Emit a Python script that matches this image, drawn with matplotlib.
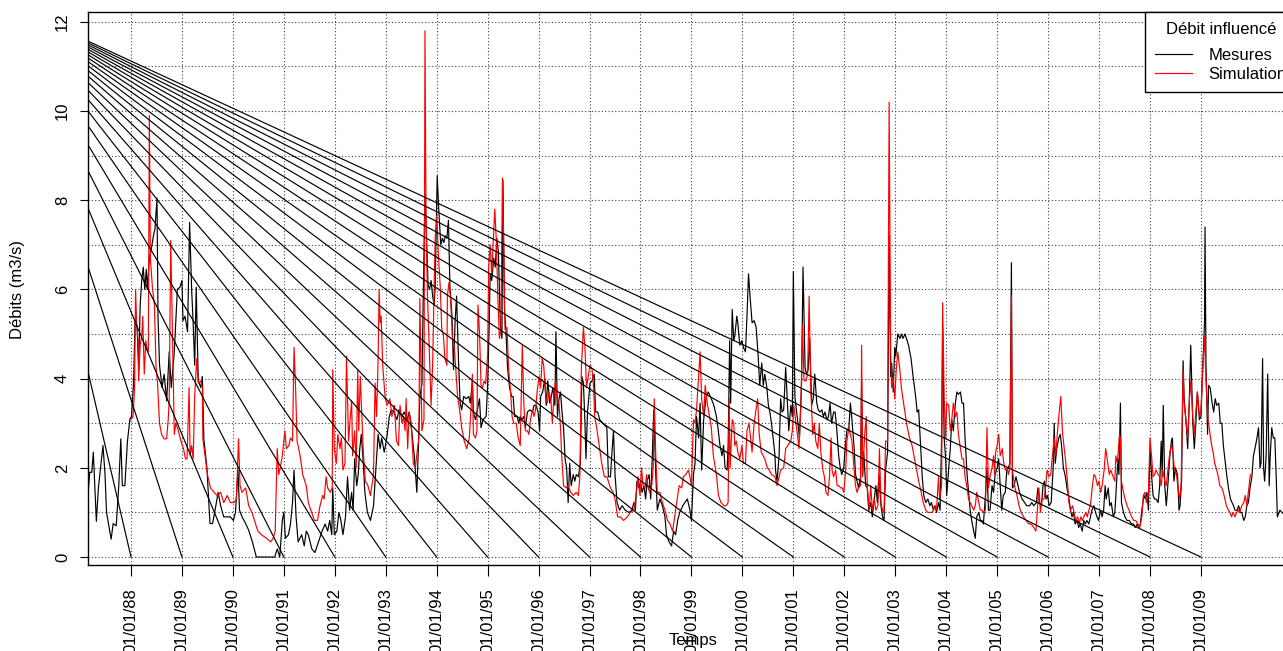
import matplotlib
matplotlib.use("Agg")
import matplotlib.pyplot as plt
import numpy as np

plt.rcParams['font.family'] = ['Liberation Sans', 'DejaVu Sans']
plt.rcParams['font.size'] = 12

# x axis: decimal years, one tick (and one fan line) per 1st of January
years = list(range(1988, 2010))
year_labels = ['01/01/%02d' % (y % 100) for y in years]
y_ticks = [0, 2, 4, 6, 8, 10, 12]

# the fan lines all start from this point (left of the plotted window) and end at (year, 0)
fan_apex = (1985.47, 12.46)

mesures = [
    (1987.14, 1.2), (1987.19, 1.9), (1987.23, 1.9), (1987.26, 2.35), (1987.32, 0.8), (1987.36, 1.55),
    (1987.45, 2.5), (1987.49, 1.85), (1987.52, 1.0), (1987.61, 0.4), (1987.65, 0.75), (1987.71, 0.7),
    (1987.76, 1.6), (1987.80, 2.65), (1987.83, 1.6), (1987.88, 1.6), (1987.93, 2.6), (1987.98, 3.1),
    (1988.01, 3.15), (1988.05, 3.9), (1988.08, 5.3), (1988.12, 5.15), (1988.15, 4.2), (1988.18, 5.65),
    (1988.21, 6.2), (1988.24, 6.5), (1988.27, 6.0), (1988.30, 6.45), (1988.32, 6.0), (1988.36, 6.7),
    (1988.39, 6.85), (1988.44, 7.2), (1988.47, 7.35), (1988.51, 8.05), (1988.53, 5.4), (1988.56, 4.3),
    (1988.61, 3.8), (1988.65, 4.1), (1988.70, 3.5), (1988.75, 4.6), (1988.79, 3.8), (1988.85, 4.6),
    (1988.91, 6.0), (1988.96, 6.05), (1989.00, 6.2), (1989.02, 5.3), (1989.06, 5.4), (1989.11, 5.05),
    (1989.15, 7.5), (1989.19, 6.0), (1989.22, 5.25), (1989.25, 4.3), (1989.28, 6.05), (1989.32, 3.95),
    (1989.37, 3.8), (1989.40, 4.05), (1989.43, 2.65), (1989.49, 2.0), (1989.55, 0.75), (1989.60, 0.75),
    (1989.65, 1.05), (1989.71, 1.45), (1989.76, 1.15), (1989.82, 0.9), (1989.89, 0.9), (1989.95, 0.9),
    (1990.01, 0.82), (1990.05, 1.0), (1990.10, 1.95), (1990.13, 1.05), (1990.18, 0.9), (1990.25, 0.75),
    (1990.31, 0.6), (1990.38, 0.35),
    (1990.46, 0.0), (1990.66, 0.0), (1990.82, 0.0), (1990.87, 0.18), (1990.92, 0.0), (1990.97, 0.82),
    (1991.00, 1.0), (1991.03, 0.42), (1991.09, 0.5), (1991.13, 0.74), (1991.17, 1.22), (1991.20, 1.95),
    (1991.24, 0.9), (1991.28, 0.34), (1991.35, 0.5), (1991.40, 0.25), (1991.44, 0.58), (1991.48, 0.5),
    (1991.55, 0.18), (1991.61, 0.1), (1991.68, 0.34), (1991.75, 0.58), (1991.81, 0.74), (1991.86, 0.58),
    (1991.90, 0.82), (1991.94, 0.5), (1991.96, 1.55), (1991.99, 0.5), (1992.04, 0.58), (1992.08, 1.0),
    (1992.12, 0.82), (1992.16, 0.5), (1992.21, 0.9), (1992.25, 1.8), (1992.29, 1.05), (1992.33, 1.45),
    (1992.36, 1.05), (1992.39, 2.2), (1992.43, 1.6), (1992.46, 1.85), (1992.49, 2.43), (1992.52, 2.75),
    (1992.56, 2.1), (1992.59, 1.45), (1992.64, 1.0), (1992.70, 0.82), (1992.76, 1.15), (1992.80, 1.85),
    (1992.85, 2.75), (1992.89, 2.43), (1992.92, 2.67), (1992.97, 2.35), (1993.02, 2.67), (1993.07, 3.15),
    (1993.11, 3.3), (1993.16, 3.25), (1993.22, 3.08), (1993.26, 3.3), (1993.32, 3.15), (1993.36, 3.25),
    (1993.42, 3.08), (1993.46, 3.25), (1993.51, 2.83), (1993.56, 2.27), (1993.61, 1.45), (1993.64, 2.43),
    (1993.67, 3.6), (1993.71, 3.88), (1993.74, 6.1), (1993.77, 8.15), (1993.79, 7.5), (1993.83, 6.1),
    (1993.86, 6.0), (1993.89, 6.2), (1993.92, 5.85), (1993.95, 5.65),
    (1993.97, 6.05), (1994.01, 8.55), (1994.04, 7.8), (1994.08, 7.0), (1994.11, 7.15), (1994.14, 7.05),
    (1994.17, 7.2), (1994.20, 7.15), (1994.23, 7.55), (1994.26, 6.05), (1994.30, 5.4), (1994.33, 4.2),
    (1994.36, 5.25), (1994.39, 5.85), (1994.43, 4.35), (1994.46, 3.45), (1994.49, 3.3), (1994.53, 3.6),
    (1994.58, 3.55), (1994.63, 3.6), (1994.66, 3.45), (1994.70, 3.95), (1994.72, 3.25), (1994.76, 3.08),
    (1994.80, 3.3), (1994.84, 3.55), (1994.87, 2.9), (1994.91, 3.08), (1994.97, 3.15), (1995.00, 3.85),
    (1995.03, 5.2), (1995.05, 6.35), (1995.08, 6.2), (1995.12, 6.7), (1995.15, 6.5), (1995.18, 7.15),
    (1995.21, 6.85), (1995.25, 5.2), (1995.28, 4.9), (1995.30, 8.45), (1995.33, 5.55), (1995.36, 5.05),
    (1995.39, 4.25), (1995.43, 3.8), (1995.47, 3.6), (1995.50, 3.6), (1995.53, 3.15), (1995.58, 3.15),
    (1995.61, 3.0), (1995.64, 3.15), (1995.67, 3.08), (1995.71, 3.15), (1995.74, 2.9), (1995.78, 3.25),
    (1995.83, 3.3), (1995.88, 3.25), (1995.91, 3.4), (1995.95, 3.4), (1995.99, 3.25), (1996.02, 2.83),
    (1996.04, 3.6), (1996.08, 3.7), (1996.12, 4.0), (1996.15, 3.4), (1996.18, 3.95), (1996.22, 3.45),
    (1996.25, 3.6), (1996.28, 3.8), (1996.32, 3.4), (1996.34, 5.05), (1996.37, 3.15), (1996.40, 3.55),
    (1996.43, 3.7), (1996.46, 3.25), (1996.49, 2.9), (1996.52, 2.2), (1996.55, 2.0), (1996.58, 1.22),
    (1996.61, 2.1), (1996.64, 1.6), (1996.68, 1.85), (1996.71, 1.7), (1996.74, 1.85), (1996.78, 1.8),
    (1996.82, 2.1), (1996.85, 4.05), (1996.88, 3.9), (1996.91, 3.0), (1996.93, 2.2), (1996.96, 3.25),
    (1997.01, 3.9), (1997.05, 3.95), (1997.09, 4.1), (1997.12, 3.25), (1997.16, 3.25), (1997.20, 3.08),
    (1997.26, 3.0),
    (1997.34, 2.9), (1997.37, 1.8), (1997.41, 1.8), (1997.44, 2.35), (1997.47, 2.83), (1997.50, 1.85),
    (1997.54, 1.22), (1997.59, 1.05), (1997.64, 1.15), (1997.70, 1.05), (1997.77, 1.0), (1997.83, 1.05),
    (1997.87, 1.22), (1997.90, 1.05), (1997.93, 1.7), (1997.97, 1.55), (1998.00, 1.7), (1998.03, 1.45),
    (1998.07, 1.6), (1998.10, 1.3), (1998.13, 1.7), (1998.17, 1.85), (1998.20, 1.3), (1998.23, 2.2),
    (1998.26, 3.3), (1998.30, 1.85), (1998.33, 1.05), (1998.38, 1.3), (1998.43, 1.15), (1998.48, 0.9),
    (1998.51, 0.5), (1998.56, 0.34), (1998.61, 0.25), (1998.65, 0.58), (1998.69, 0.5), (1998.73, 0.82),
    (1998.77, 1.0), (1998.83, 1.15), (1998.87, 1.22), (1998.92, 1.3), (1998.97, 1.05), (1999.00, 0.82),
    (1999.04, 1.85), (1999.07, 2.1), (1999.10, 3.15), (1999.14, 2.67), (1999.17, 3.45), (1999.20, 1.95),
    (1999.24, 3.08), (1999.29, 3.6), (1999.33, 3.7), (1999.39, 3.55), (1999.44, 3.4), (1999.49, 3.15),
    (1999.52, 2.9), (1999.56, 2.5), (1999.60, 2.27), (1999.63, 2.5), (1999.66, 2.0), (1999.70, 1.95),
    (1999.72, 2.5), (1999.75, 4.85), (1999.77, 3.45), (1999.80, 5.55), (1999.83, 4.85), (1999.85, 4.95),
    (1999.89, 5.4), (1999.91, 5.25), (1999.95, 4.75), (1999.99, 4.85), (2000.02, 4.7), (2000.06, 4.6),
    (2000.09, 5.4), (2000.12, 6.35), (2000.15, 5.85), (2000.19, 5.25), (2000.23, 5.3), (2000.27, 5.15),
    (2000.31, 4.5), (2000.34, 3.85), (2000.38, 4.35), (2000.41, 3.85), (2000.44, 4.1), (2000.48, 3.8),
    (2000.51, 3.4), (2000.54, 3.25), (2000.57, 3.0), (2000.61, 2.6), (2000.64, 2.27),
    (2000.65, 1.95), (2000.68, 1.7), (2000.72, 2.27), (2000.75, 3.55), (2000.78, 3.25), (2000.81, 3.3),
    (2000.85, 4.25), (2000.88, 3.55), (2000.91, 2.83), (2000.95, 3.4), (2000.98, 3.15), (2001.00, 6.4),
    (2001.03, 3.6), (2001.06, 3.3), (2001.09, 3.0), (2001.12, 2.67), (2001.16, 3.85), (2001.19, 6.5),
    (2001.23, 4.25), (2001.26, 4.1), (2001.29, 4.2), (2001.32, 4.9), (2001.36, 3.4), (2001.39, 3.55),
    (2001.42, 4.1), (2001.46, 3.45), (2001.49, 3.3), (2001.52, 3.25), (2001.56, 3.3), (2001.59, 3.15),
    (2001.62, 3.25), (2001.66, 3.08), (2001.69, 3.15), (2001.72, 3.45), (2001.75, 3.0), (2001.79, 3.25),
    (2001.82, 3.25), (2001.85, 2.9), (2001.89, 2.27), (2001.92, 2.0), (2001.95, 1.85), (2001.99, 2.0),
    (2002.02, 2.5), (2002.05, 2.83), (2002.09, 2.9), (2002.12, 3.45), (2002.15, 3.08), (2002.19, 2.5),
    (2002.22, 1.85), (2002.25, 1.7), (2002.28, 1.55), (2002.32, 1.8), (2002.34, 3.95), (2002.36, 1.85),
    (2002.38, 2.35), (2002.42, 1.6), (2002.45, 1.55), (2002.48, 1.05), (2002.52, 1.22), (2002.55, 0.9),
    (2002.58, 1.22), (2002.62, 1.6), (2002.65, 1.22), (2002.68, 1.85), (2002.72, 1.15), (2002.75, 0.9),
    (2002.78, 0.82), (2002.81, 1.95), (2002.85, 2.35), (2002.88, 7.2), (2002.91, 4.05), (2002.93, 4.35),
    (2002.96, 3.7), (2002.99, 4.7), (2003.01, 4.5), (2003.05, 5.0), (2003.09, 4.9), (2003.12, 5.0),
    (2003.15, 4.9), (2003.19, 5.0), (2003.22, 4.9), (2003.26, 4.75), (2003.31, 4.45), (2003.35, 4.05),
    (2003.40, 3.6), (2003.43, 3.25), (2003.46, 3.3), (2003.50, 2.43), (2003.53, 1.8), (2003.56, 1.38),
    (2003.60, 1.22), (2003.64, 1.3), (2003.68, 1.15), (2003.71, 1.22), (2003.75, 1.05), (2003.78, 1.15),
    (2003.81, 1.0), (2003.85, 1.22), (2003.88, 1.05), (2003.91, 2.67), (2003.93, 5.15), (2003.96, 2.67),
    (2003.99, 2.2),
    (2004.01, 1.38), (2004.05, 2.0), (2004.08, 2.43), (2004.11, 3.08), (2004.14, 2.83), (2004.18, 3.45),
    (2004.21, 3.7), (2004.24, 3.65), (2004.28, 3.7), (2004.31, 3.45), (2004.34, 3.45), (2004.37, 2.67),
    (2004.41, 1.85), (2004.44, 1.45), (2004.47, 1.05), (2004.50, 0.82), (2004.54, 0.58), (2004.57, 0.42),
    (2004.60, 0.9), (2004.64, 1.0), (2004.67, 0.82), (2004.70, 0.82), (2004.73, 0.74), (2004.77, 1.38),
    (2004.80, 2.0), (2004.83, 1.05), (2004.86, 1.05), (2004.90, 1.6), (2004.93, 1.45), (2004.96, 1.85),
    (2005.00, 2.0), (2005.03, 2.2), (2005.06, 1.6), (2005.09, 1.05), (2005.12, 1.38), (2005.16, 1.45),
    (2005.19, 1.95), (2005.22, 2.0), (2005.25, 2.1), (2005.28, 6.6), (2005.30, 1.55), (2005.33, 1.6),
    (2005.37, 1.8), (2005.41, 1.6), (2005.44, 1.45), (2005.49, 1.3), (2005.54, 1.22), (2005.58, 1.15),
    (2005.64, 1.15), (2005.68, 1.22), (2005.72, 1.15), (2005.77, 1.22), (2005.80, 1.55), (2005.83, 1.22),
    (2005.87, 1.15), (2005.90, 1.6), (2005.93, 1.7), (2005.96, 1.3), (2005.99, 1.38), (2006.02, 1.15),
    (2006.06, 1.22), (2006.10, 2.0), (2006.12, 3.0), (2006.14, 2.1), (2006.17, 2.43), (2006.21, 2.67),
    (2006.24, 2.75), (2006.27, 2.43), (2006.30, 2.0), (2006.34, 1.8), (2006.37, 1.55), (2006.40, 1.38),
    (2006.44, 1.05), (2006.47, 0.9), (2006.50, 1.0), (2006.53, 0.74), (2006.57, 0.82), (2006.60, 0.66),
    (2006.63, 0.74), (2006.67, 0.58), (2006.70, 0.82), (2006.73, 0.74), (2006.76, 0.82), (2006.80, 0.74),
    (2006.83, 0.9), (2006.86, 1.05), (2006.90, 1.15), (2006.93, 1.0), (2006.96, 0.9), (2006.99, 0.82),
    (2007.03, 1.05), (2007.06, 0.9), (2007.09, 1.05), (2007.12, 1.6), (2007.14, 1.3), (2007.18, 1.55),
    (2007.21, 1.15), (2007.24, 1.22), (2007.28, 0.9), (2007.31, 1.0),
    (2007.33, 1.38), (2007.37, 2.2), (2007.39, 1.85), (2007.42, 3.45), (2007.44, 1.22), (2007.48, 1.0),
    (2007.51, 0.9), (2007.55, 0.82), (2007.59, 0.82), (2007.64, 0.74), (2007.68, 0.74), (2007.71, 0.66),
    (2007.75, 0.74), (2007.78, 0.66), (2007.81, 0.74), (2007.84, 1.05), (2007.88, 1.38), (2007.91, 1.3),
    (2007.94, 1.45), (2007.97, 1.05), (2008.00, 2.43), (2008.03, 1.85), (2008.06, 1.38), (2008.09, 1.3),
    (2008.12, 1.3), (2008.16, 1.22), (2008.19, 1.6), (2008.22, 2.6), (2008.24, 1.8), (2008.26, 3.4),
    (2008.29, 1.6), (2008.32, 1.15), (2008.35, 1.6), (2008.39, 2.27), (2008.42, 2.6), (2008.44, 2.67),
    (2008.47, 1.7), (2008.50, 2.0), (2008.54, 1.85), (2008.57, 1.05), (2008.59, 1.15), (2008.62, 1.7),
    (2008.65, 4.4), (2008.67, 3.55), (2008.71, 3.0), (2008.74, 2.43), (2008.77, 3.45), (2008.80, 4.75),
    (2008.84, 3.0), (2008.87, 2.43), (2008.90, 3.0), (2008.93, 3.7), (2008.97, 3.08), (2009.00, 3.15),
    (2009.03, 4.1), (2009.07, 5.25), (2009.08, 7.4), (2009.10, 4.2), (2009.13, 2.75), (2009.15, 3.85),
    (2009.18, 3.8), (2009.22, 3.45), (2009.25, 3.25), (2009.28, 3.55), (2009.31, 3.4), (2009.35, 3.45),
    (2009.38, 3.0), (2009.41, 3.0), (2009.44, 2.5), (2009.48, 2.1), (2009.51, 1.8), (2009.54, 1.55),
    (2009.58, 1.3), (2009.61, 1.22), (2009.64, 1.15), (2009.67, 1.05), (2009.71, 1.05), (2009.74, 1.15),
    (2009.77, 1.0), (2009.80, 1.0), (2009.84, 0.82), (2009.87, 0.9), (2009.90, 1.15), (2009.93, 1.22),
    (2009.97, 1.6), (2010.00, 1.8), (2010.03, 2.27), (2010.06, 2.43), (2010.10, 2.67), (2010.13, 2.9),
    (2010.16, 2.0), (2010.18, 2.1), (2010.21, 4.45), (2010.23, 2.0), (2010.25, 1.7), (2010.28, 2.27),
    (2010.31, 4.1), (2010.34, 1.6), (2010.36, 2.27), (2010.39, 2.9), (2010.42, 2.67), (2010.45, 2.67),
    (2010.48, 1.7), (2010.50, 0.9), (2010.55, 1.05), (2010.59, 1.0), (2010.64, 0.95),
]

# simulated discharge (m3/s)
simulation = [
    (1988.00, 3.08), (1988.04, 3.15), (1988.07, 3.8), (1988.09, 6.0), (1988.11, 5.25), (1988.14, 4.85),
    (1988.15, 3.95), (1988.18, 4.75), (1988.21, 4.95), (1988.23, 5.4), (1988.26, 4.1), (1988.29, 4.85),
    (1988.31, 4.7), (1988.34, 4.6), (1988.36, 9.9), (1988.38, 6.7), (1988.42, 6.05), (1988.46, 5.65),
    (1988.49, 4.3), (1988.52, 3.9), (1988.56, 3.0), (1988.60, 2.75), (1988.65, 2.65), (1988.70, 2.65),
    (1988.73, 3.08), (1988.75, 3.5), (1988.78, 7.1), (1988.85, 2.75), (1988.88, 3.0), (1988.93, 2.83),
    (1988.98, 2.6), (1989.03, 2.43), (1989.07, 2.2), (1989.10, 2.2), (1989.14, 3.8), (1989.16, 2.27),
    (1989.19, 2.5), (1989.22, 2.2), (1989.25, 3.6), (1989.29, 4.45), (1989.32, 3.9), (1989.37, 3.95),
    (1989.40, 3.8), (1989.41, 2.65), (1989.50, 1.85), (1989.56, 1.55), (1989.63, 1.45), (1989.69, 1.38),
    (1989.76, 1.45), (1989.82, 1.22), (1989.89, 1.38), (1989.95, 1.22), (1990.02, 1.22), (1990.07, 1.3),
    (1990.11, 2.65), (1990.14, 1.6), (1990.18, 1.45), (1990.25, 1.55), (1990.31, 1.15), (1990.38, 0.98),
    (1990.49, 0.58), (1990.56, 0.5), (1990.66, 0.42), (1990.74, 0.34), (1990.79, 0.42), (1990.83, 0.58),
    (1990.87, 2.43), (1990.90, 1.85), (1990.93, 2.0), (1990.97, 2.27), (1991.02, 2.83), (1991.05, 2.43),
    (1991.10, 2.5), (1991.13, 2.67), (1991.17, 2.6), (1991.20, 4.7), (1991.23, 3.8), (1991.26, 2.6),
    (1991.32, 2.27), (1991.37, 1.85), (1991.44, 1.6), (1991.48, 1.22), (1991.53, 1.05), (1991.60, 0.82),
    (1991.66, 0.82), (1991.71, 1.15), (1991.76, 1.38), (1991.79, 1.3), (1991.83, 1.8), (1991.86, 1.55),
    (1991.91, 1.45), (1991.95, 1.55), (1991.96, 4.2), (1991.99, 2.43), (1992.03, 2.1), (1992.06, 2.75),
    (1992.10, 2.43), (1992.13, 2.67), (1992.16, 1.95), (1992.20, 2.1), (1992.23, 4.5), (1992.27, 2.6),
    (1992.30, 3.08), (1992.33, 3.5), (1992.35, 2.27), (1992.39, 2.83), (1992.42, 2.0), (1992.45, 4.2),
    (1992.47, 2.83), (1992.50, 4.05), (1992.52, 3.5), (1992.56, 2.35), (1992.60, 1.7), (1992.65, 1.6),
    (1992.70, 1.38), (1992.76, 1.85), (1992.79, 3.9), (1992.82, 3.15), (1992.85, 4.45), (1992.87, 6.0),
    (1992.89, 5.25), (1992.91, 5.4), (1992.94, 4.3), (1992.99, 3.55), (1993.03, 3.4), (1993.08, 3.55),
    (1993.12, 3.15), (1993.17, 3.4), (1993.21, 2.6), (1993.25, 2.5), (1993.28, 3.4), (1993.32, 3.0),
    (1993.35, 3.15), (1993.38, 2.83), (1993.40, 3.55), (1993.43, 2.43), (1993.46, 3.25), (1993.50, 3.0),
    (1993.54, 2.1), (1993.58, 2.0), (1993.63, 2.5), (1993.65, 2.65), (1993.67, 5.8), (1993.71, 2.83),
    (1993.75, 3.08), (1993.77, 11.8), (1993.79, 7.65), (1993.82, 5.85), (1993.87, 4.05), (1993.89, 3.4),
    (1993.92, 4.3),
    (1993.97, 7.15), (1994.00, 7.65), (1994.03, 6.85), (1994.07, 6.05), (1994.10, 5.1), (1994.13, 5.0),
    (1994.16, 4.45), (1994.20, 4.3), (1994.21, 5.85), (1994.24, 6.15), (1994.27, 5.85), (1994.31, 4.9),
    (1994.34, 4.75), (1994.37, 4.3), (1994.41, 3.6), (1994.45, 3.3), (1994.49, 2.9), (1994.54, 2.6),
    (1994.59, 2.43), (1994.64, 2.67), (1994.68, 3.45), (1994.70, 4.1), (1994.72, 2.75), (1994.76, 2.67),
    (1994.79, 2.83), (1994.81, 5.65), (1994.84, 5.05), (1994.87, 3.85), (1994.90, 3.8), (1994.93, 3.95),
    (1994.96, 3.88), (1995.00, 4.55), (1995.02, 6.5), (1995.05, 7.0), (1995.08, 6.35), (1995.12, 7.35),
    (1995.14, 7.8), (1995.17, 7.1), (1995.20, 5.85), (1995.23, 4.9), (1995.26, 5.1), (1995.29, 8.5),
    (1995.32, 6.7), (1995.34, 5.1), (1995.38, 5.15), (1995.41, 4.25), (1995.45, 3.7), (1995.48, 3.15),
    (1995.51, 3.0), (1995.56, 3.0), (1995.60, 2.67), (1995.64, 2.5), (1995.68, 4.75), (1995.71, 3.45),
    (1995.74, 2.83), (1995.78, 2.83), (1995.81, 2.75), (1995.84, 3.08), (1995.88, 3.3), (1995.91, 3.15),
    (1995.94, 3.3), (1995.97, 3.7), (1996.01, 4.05), (1996.04, 3.8), (1996.07, 4.45), (1996.10, 4.3),
    (1996.14, 3.6), (1996.17, 3.45), (1996.20, 3.7), (1996.24, 3.55), (1996.27, 3.0), (1996.30, 3.6),
    (1996.33, 3.95), (1996.37, 3.45), (1996.40, 3.45), (1996.43, 2.9), (1996.45, 2.35), (1996.49, 1.6),
    (1996.54, 1.55), (1996.58, 1.6), (1996.63, 1.45), (1996.68, 1.38), (1996.74, 1.45), (1996.78, 1.38),
    (1996.81, 1.8), (1996.84, 4.25), (1996.88, 5.15), (1996.91, 4.7), (1996.94, 3.8), (1996.98, 4.1),
    (1997.01, 4.3), (1997.05, 4.2), (1997.08, 3.8), (1997.10, 3.15), (1997.14, 2.9), (1997.19, 2.5),
    (1997.24, 2.1), (1997.29, 1.8),
    (1997.34, 1.8), (1997.41, 1.55), (1997.46, 1.45), (1997.50, 1.3), (1997.55, 0.9), (1997.60, 0.9),
    (1997.67, 0.82), (1997.74, 0.9), (1997.80, 1.0), (1997.87, 1.05), (1997.92, 1.45), (1997.95, 1.8),
    (1997.99, 1.38), (1998.02, 2.0), (1998.05, 1.6), (1998.09, 1.55), (1998.12, 1.85), (1998.15, 1.55),
    (1998.18, 1.45), (1998.22, 1.6), (1998.25, 2.0), (1998.27, 3.55), (1998.30, 2.27), (1998.33, 1.45),
    (1998.38, 1.45), (1998.43, 1.22), (1998.48, 1.05), (1998.53, 0.82), (1998.58, 0.74), (1998.63, 0.58),
    (1998.67, 0.9), (1998.71, 1.22), (1998.76, 1.6), (1998.81, 1.55), (1998.84, 1.8), (1998.89, 1.85),
    (1998.94, 1.95), (1998.97, 1.8), (1999.00, 1.6), (1999.04, 3.08), (1999.07, 3.0), (1999.10, 3.3),
    (1999.14, 4.05), (1999.17, 4.6), (1999.20, 3.55), (1999.24, 3.15), (1999.27, 3.85), (1999.31, 3.45),
    (1999.34, 3.25), (1999.39, 2.9), (1999.43, 2.27), (1999.49, 1.85), (1999.53, 1.38), (1999.58, 1.22),
    (1999.64, 1.15), (1999.68, 1.15), (1999.72, 1.22), (1999.74, 3.55), (1999.76, 2.0), (1999.80, 3.08),
    (1999.83, 3.0), (1999.85, 2.5), (1999.88, 2.6), (1999.91, 2.35), (1999.95, 2.2), (1999.99, 2.5),
    (2000.02, 2.1), (2000.06, 2.1), (2000.09, 2.83), (2000.13, 3.0), (2000.16, 2.67), (2000.19, 2.35),
    (2000.23, 3.0), (2000.26, 3.25), (2000.30, 3.55), (2000.33, 2.75), (2000.37, 2.35), (2000.41, 2.27),
    (2000.44, 2.2), (2000.49, 2.0), (2000.53, 1.95), (2000.57, 1.85), (2000.64, 1.8),
    (2000.68, 1.6), (2000.75, 1.95), (2000.81, 2.0), (2000.85, 2.43), (2000.89, 2.5), (2000.95, 2.6),
    (2000.98, 2.83), (2001.01, 3.4), (2001.05, 3.0), (2001.08, 2.75), (2001.11, 2.43), (2001.15, 3.45),
    (2001.18, 5.2), (2001.21, 3.95), (2001.25, 3.95), (2001.28, 4.1), (2001.31, 5.85), (2001.34, 3.85),
    (2001.38, 2.75), (2001.41, 3.0), (2001.44, 2.6), (2001.48, 2.43), (2001.51, 3.0), (2001.54, 2.35),
    (2001.58, 1.95), (2001.61, 1.8), (2001.64, 1.45), (2001.68, 1.38), (2001.71, 1.8), (2001.74, 2.67),
    (2001.76, 1.95), (2001.79, 1.8), (2001.83, 1.95), (2001.86, 1.6), (2001.89, 1.6), (2001.93, 1.55),
    (2001.96, 1.55), (2001.99, 1.45), (2002.03, 2.0), (2002.05, 2.6), (2002.09, 2.9), (2002.12, 2.75),
    (2002.15, 2.6), (2002.19, 2.0), (2002.22, 1.6), (2002.25, 1.45), (2002.28, 1.55), (2002.32, 1.6),
    (2002.34, 4.75), (2002.36, 1.8), (2002.40, 2.75), (2002.43, 3.15), (2002.45, 1.6), (2002.49, 1.05),
    (2002.52, 1.6), (2002.55, 1.05), (2002.59, 1.3), (2002.62, 1.05), (2002.66, 1.15), (2002.69, 2.43),
    (2002.72, 1.22), (2002.75, 1.05), (2002.78, 1.0), (2002.81, 2.6), (2002.85, 2.6), (2002.88, 10.2),
    (2002.91, 4.6), (2002.93, 3.8), (2002.96, 4.05), (2002.99, 3.55), (2003.02, 4.2), (2003.05, 4.6),
    (2003.09, 4.2), (2003.12, 3.8), (2003.15, 3.55), (2003.19, 3.25), (2003.22, 3.0), (2003.25, 2.83),
    (2003.28, 2.67), (2003.33, 2.5), (2003.38, 2.2), (2003.42, 1.95), (2003.46, 1.7), (2003.51, 1.45),
    (2003.55, 1.22), (2003.60, 1.05), (2003.64, 1.0), (2003.68, 1.0), (2003.73, 1.0), (2003.77, 1.15),
    (2003.81, 1.05), (2003.85, 1.8), (2003.87, 1.3), (2003.91, 1.6), (2003.93, 5.7), (2003.96, 3.6),
    (2003.99, 2.67),
    (2004.01, 3.45), (2004.05, 3.4), (2004.08, 2.83), (2004.11, 3.08), (2004.14, 3.45), (2004.18, 3.15),
    (2004.21, 3.25), (2004.24, 2.75), (2004.28, 2.43), (2004.31, 2.2), (2004.34, 2.2), (2004.37, 1.8),
    (2004.41, 1.55), (2004.44, 1.3), (2004.47, 1.22), (2004.50, 1.15), (2004.54, 1.05), (2004.57, 1.15),
    (2004.60, 1.45), (2004.64, 1.22), (2004.67, 1.05), (2004.70, 1.05), (2004.73, 1.0), (2004.77, 1.05),
    (2004.80, 2.9), (2004.83, 1.55), (2004.86, 1.8), (2004.90, 2.0), (2004.93, 2.27), (2004.95, 1.85),
    (2004.97, 2.35), (2005.00, 2.5), (2005.03, 2.75), (2005.06, 2.27), (2005.10, 2.43), (2005.13, 2.1),
    (2005.16, 1.95), (2005.20, 2.0), (2005.22, 1.85), (2005.25, 2.0), (2005.28, 5.85), (2005.30, 1.95),
    (2005.34, 1.6), (2005.39, 1.38), (2005.43, 1.15), (2005.47, 1.0), (2005.52, 0.9), (2005.57, 0.82),
    (2005.62, 0.74), (2005.67, 0.74), (2005.72, 0.66), (2005.76, 0.58), (2005.79, 1.05), (2005.82, 1.55),
    (2005.85, 1.0), (2005.88, 1.3), (2005.92, 1.3), (2005.95, 1.55), (2005.98, 1.95), (2006.02, 1.8),
    (2006.05, 1.85), (2006.08, 2.2), (2006.12, 2.67), (2006.15, 2.27), (2006.18, 2.75), (2006.21, 3.15),
    (2006.25, 3.6), (2006.28, 2.83), (2006.31, 2.5), (2006.34, 2.2), (2006.38, 1.7), (2006.41, 1.22),
    (2006.44, 1.05), (2006.48, 1.15), (2006.51, 1.0), (2006.54, 0.82), (2006.58, 0.9), (2006.61, 0.74),
    (2006.64, 0.9), (2006.67, 0.82), (2006.70, 0.9), (2006.74, 1.0), (2006.77, 0.9), (2006.80, 1.05),
    (2006.83, 1.15), (2006.87, 1.6), (2006.90, 1.85), (2006.93, 1.8), (2006.97, 1.6), (2007.00, 1.7),
    (2007.03, 1.45), (2007.06, 1.6), (2007.10, 1.95), (2007.13, 2.43), (2007.16, 2.2), (2007.20, 1.85),
    (2007.23, 1.95), (2007.26, 1.85), (2007.31, 1.7),
    (2007.33, 2.27), (2007.36, 2.1), (2007.40, 2.75), (2007.42, 2.67), (2007.44, 1.7), (2007.48, 1.45),
    (2007.51, 1.3), (2007.55, 1.15), (2007.59, 1.05), (2007.64, 0.9), (2007.68, 0.82), (2007.72, 0.82),
    (2007.76, 0.74), (2007.80, 0.66), (2007.84, 0.9), (2007.87, 1.38), (2007.90, 1.45), (2007.93, 1.22),
    (2007.97, 1.45), (2008.00, 2.67), (2008.03, 2.27), (2008.06, 1.8), (2008.09, 1.85), (2008.12, 1.95),
    (2008.16, 1.85), (2008.19, 1.8), (2008.22, 1.6), (2008.25, 1.95), (2008.29, 1.7), (2008.32, 1.6),
    (2008.35, 1.95), (2008.39, 2.35), (2008.42, 2.5), (2008.45, 2.35), (2008.48, 1.95), (2008.52, 1.85),
    (2008.55, 1.55), (2008.58, 1.3), (2008.61, 1.6), (2008.65, 4.2), (2008.67, 3.45), (2008.71, 3.0),
    (2008.74, 2.67), (2008.77, 3.45), (2008.80, 3.95), (2008.84, 3.15), (2008.87, 2.75), (2008.90, 3.25),
    (2008.93, 3.7), (2008.97, 3.15), (2009.00, 3.3), (2009.03, 4.05), (2009.07, 4.95), (2009.09, 4.25),
    (2009.12, 3.45), (2009.14, 3.08), (2009.18, 2.75), (2009.21, 2.5), (2009.24, 2.35), (2009.27, 2.1),
    (2009.31, 1.95), (2009.34, 1.8), (2009.37, 1.6), (2009.41, 1.55), (2009.44, 1.45), (2009.47, 1.3),
    (2009.50, 1.15), (2009.54, 1.05), (2009.57, 1.0), (2009.60, 0.9), (2009.63, 1.0), (2009.67, 0.9),
    (2009.70, 1.0), (2009.73, 1.05), (2009.76, 1.0), (2009.80, 1.15), (2009.84, 1.22), (2009.87, 1.38),
    (2009.90, 1.15), (2009.93, 1.45), (2009.97, 1.85),
]

mes_t, mes_q = zip(*mesures)
sim_t, sim_q = zip(*simulation)

W, H = 1283, 651
fig = plt.figure(figsize=(W / 100, H / 100), dpi=100)
# the plot region runs past the right edge of the picture, like the original
ax = fig.add_axes([88 / W, 86 / H, 1210 / W, 553 / H])

# dotted grid: every year and every unit
for y in years:
    ax.axvline(y, color='0.25', lw=0.8, ls=(0, (1, 2)), zorder=1)
for v in range(0, 13):
    ax.axhline(v, color='0.25', lw=0.8, ls=(0, (1, 2)), zorder=1)

l_mes, = ax.plot(mes_t, mes_q, color='black', lw=0.85, zorder=2)
l_sim, = ax.plot(sim_t, sim_q, color='red', lw=0.85, zorder=3)

for y in years:
    ax.plot([fan_apex[0], y], [fan_apex[1], 0], color='black', lw=0.85, zorder=4)

ax.set_xlim(1987.156, 2010.905)
ax.set_ylim(-0.179, 12.22)

ax.set_xticks(years)
ax.set_xticklabels(year_labels, rotation=90)
ax.set_yticks(y_ticks)
ax.set_yticklabels([str(v) for v in y_ticks], rotation=90, va='center')
ax.tick_params(axis='x', length=8, width=0.8, pad=8.5)
ax.tick_params(axis='y', length=6, width=0.8, pad=7)
for s in ax.spines.values():
    s.set_linewidth(1.0)

fig.text(18 / W, 1 - 290 / H, 'Débits (m3/s)', rotation=90, ha='center', va='center')
fig.text(693 / W, 1 - 641 / H, 'Temps', ha='center', va='center')

leg = ax.legend([l_mes, l_sim], ['Mesures', 'Simulation'], title='Débit influencé',
                loc='upper left', bbox_to_anchor=(1145 / W, 1 - 12 / H),
                bbox_transform=fig.transFigure, borderaxespad=0, fancybox=False,
                edgecolor='black', framealpha=1, handlelength=2.2, handletextpad=1.0,
                borderpad=0.6, labelspacing=0.22, fontsize=12, title_fontsize=12)
leg.get_frame().set_linewidth(1.0)
leg._legend_box.sep = 8

fig.savefig('out.png', dpi=100)
